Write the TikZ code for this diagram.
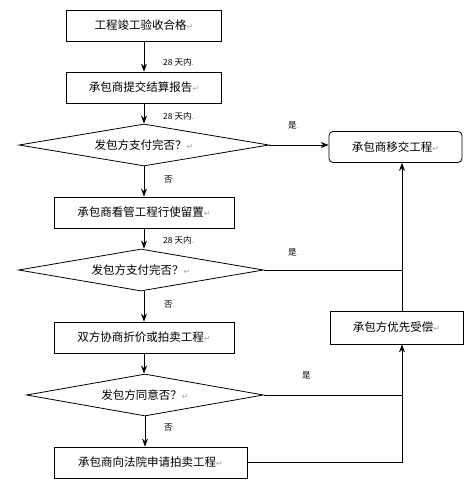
\documentclass[tikz,border=0pt]{standalone}
\usepackage{fontspec}
\setmainfont{Noto Sans CJK SC}
\newfontfamily\symfont{DejaVu Sans}
\usetikzlibrary{shapes.geometric,arrows.meta}
\newcommand{\ret}{{\color{black!35}\symfont\fontsize{8}{8}\selectfont ↵}}
\newcommand{\lbldot}{{\color{black!35}.}}
\newcommand{\thick}{0.8pt}
\tikzset{
  stepbox/.style={draw, line width=\thick, minimum height=31pt, inner sep=0pt, font=\fontsize{11.5}{13}\selectfont},
  choice/.style={draw, diamond, aspect=6, line width=\thick, inner sep=0pt, minimum height=42pt, font=\fontsize{11.5}{13}\selectfont},
  lbl/.style={anchor=west, inner sep=0pt, font=\fontsize{8.5}{9}\selectfont},
  arr/.style={-{Stealth[length=8pt,width=6pt]}, line width=\thick},
  ln/.style={line width=\thick}
}

\begin{document}
\begin{tikzpicture}[x=1pt,y=-1pt]
\useasboundingbox (0,0) rectangle (469,483);
\node[stepbox, minimum width=155pt] (b1) at (144,25.5) {工程竣工验收合格\ret};
\node[stepbox, minimum width=155pt] (b2) at (144,87.5) {承包商提交结算报告\ret};
\node[choice, minimum width=250pt] (d1) at (144,145) {发包方支付完否？\ret};
\node[stepbox, minimum width=180pt] (b3) at (144,212.5) {承包商看管工程行使留置\ret};
\node[choice, minimum width=245pt] (d2) at (141,270) {发包方支付完否？\ret};
\node[stepbox, minimum width=180pt] (b4) at (144,337.5) {双方协商折价或拍卖工程\ret};
\node[choice, minimum width=237pt] (d3) at (145,395) {发包方同意否？\ret};
\node[stepbox, minimum width=193pt] (b5) at (150.5,462.5) {承包商向法院申请拍卖工程\ret};
\node[stepbox, minimum width=133pt, minimum height=33pt] (b6) at (396.5,327.5) {承包方优先受偿\ret};
\node[stepbox, minimum width=133pt, rounded corners=4pt] (b7) at (395.5,147) {承包商移交工程\ret};
\coordinate (rail) at (402,0);
%labels
\node[lbl] (l1) at (163,62) {28 天内\lbldot};
\node[lbl] (l2) at (163,116) {28 天内\lbldot};
\node[lbl] (l3) at (164,180) {否\lbldot};
\node[lbl] (l4) at (163,240) {28 天内\lbldot};
\node[lbl] (l5) at (288,125) {是\lbldot};
\node[lbl] (l6) at (288,252) {是\lbldot};
\node[lbl] (l7) at (164,305) {否\lbldot};
\node[lbl] (l8) at (302,375) {是\lbldot};
\node[lbl] (l9) at (164,428) {否\lbldot};
%main column
\draw[arr] (b1) -- (b2);
\draw[arr] (b2) -- (d1);
\draw[arr] (d1) -- (b3);
\draw[arr] (b3.south) -- (b3.south |- d2.north);
\draw[arr] (d2.south -| b4.south) -- (b4.south |- b4.north);
\draw[arr] (b4.south) -- (b4.south |- d3.north);
\draw[arr] (d3.south) -- (d3.south |- b5.north);
%right side
\draw[arr] (d1.east) -- (d1.east -| b7.west);
\draw[ln] (d2.east) -- (d2.east -| rail);
\draw[ln] (d3.east) -- (d3.east -| rail);
\draw[arr] (b5.east) -| (rail |- b6.south);
\draw[arr] (rail |- b6.north) -- (rail |- b7.south);
\end{tikzpicture}
\end{document}
